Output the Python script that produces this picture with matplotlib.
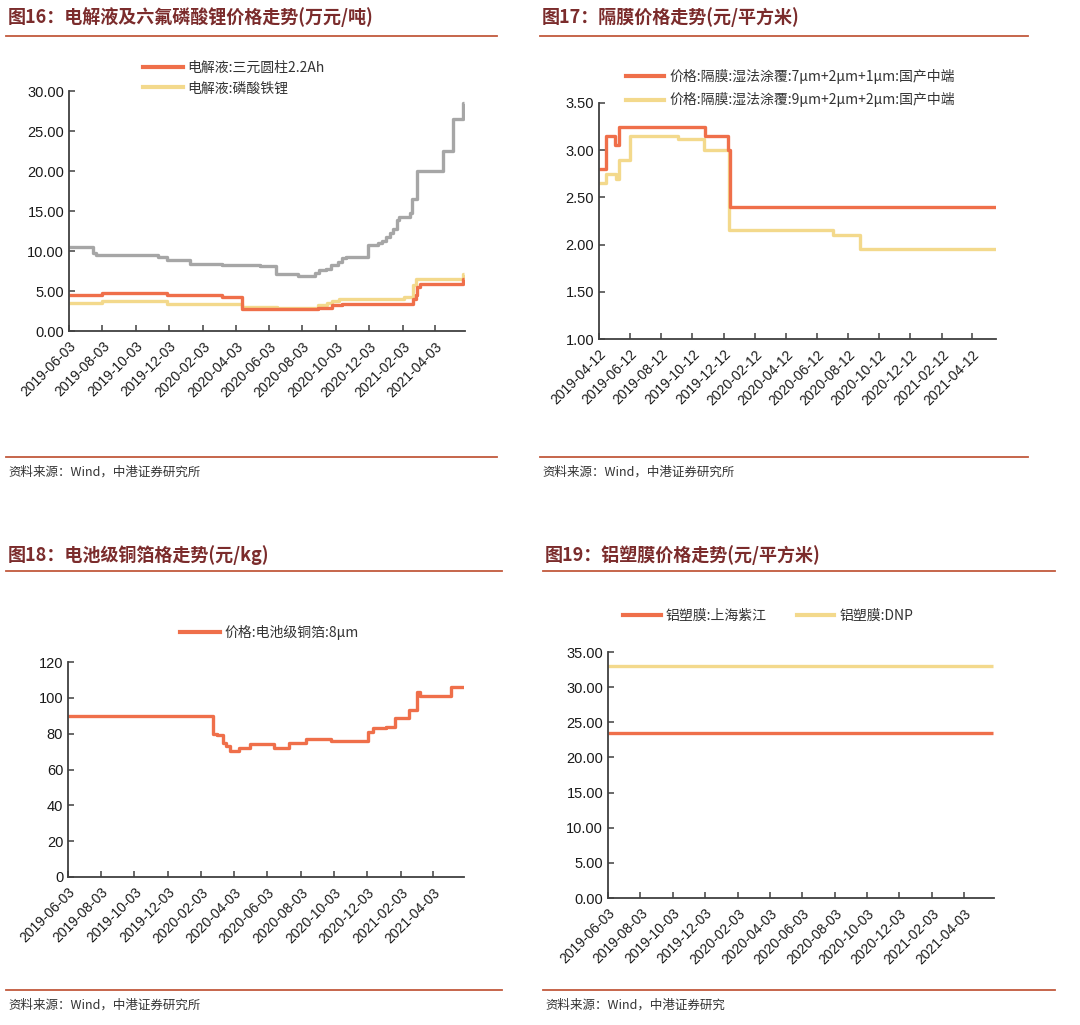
import pandas as pd
import matplotlib
matplotlib.use('Agg')
import matplotlib.pyplot as plt
from matplotlib.lines import Line2D

plt.rcParams['font.family'] = ['Liberation Sans', 'Noto Sans CJK SC', 'DejaVu Sans']
CJK = ['Noto Sans CJK SC', 'DejaVu Sans']

ORANGE = '#EF6F4A'
YELLOW = '#F3D98C'
GRAY = '#A6A6A6'
TITLE_C = '#7B2C2C'
RULE_C = '#C2593D'
AXIS_C = '#404040'

# ---- 图16 电解液及六氟磷酸锂 (万元/吨) ----
lipf6_dates = ['2019-06-03', '2019-07-17', '2019-07-22', '2019-11-13', '2019-11-29', '2020-01-11',
               '2020-03-09', '2020-04-29', '2020-05-18', '2020-06-16', '2020-07-27', '2020-08-27',
               '2020-09-02', '2020-09-15', '2020-09-25', '2020-10-07', '2020-10-14', '2020-10-22',
               '2020-12-01', '2020-12-20', '2020-12-27', '2021-01-03', '2021-01-10', '2021-01-16',
               '2021-01-23', '2021-01-27', '2021-02-16', '2021-02-20', '2021-03-01', '2021-04-18',
               '2021-05-06', '2021-05-24', '2021-05-27']
lipf6_vals = [10.5, 9.8, 9.5, 9.2, 8.9, 8.4,
              8.3, 8.2, 8.1, 7.1, 6.9, 7.3,
              7.6, 7.8, 8.2, 8.6, 9.1, 9.2,
              10.8, 11.0, 11.3, 11.8, 12.2, 12.8,
              13.9, 14.2, 14.8, 16.5, 20.0, 22.5,
              26.5, 28.5, 28.5]

ncm_dates = ['2019-06-03', '2019-08-02', '2019-11-29', '2020-03-09', '2020-04-15', '2020-09-01',
             '2020-09-26', '2020-10-15', '2021-02-22', '2021-02-27', '2021-03-02', '2021-03-06',
             '2021-05-24', '2021-05-27']
ncm_vals = [4.5, 4.7, 4.5, 4.3, 2.7, 2.9,
            3.2, 3.4, 4.0, 4.5, 5.5, 5.9,
            6.5, 6.5]

lfp_dates = ['2019-06-03', '2019-08-02', '2019-08-08', '2019-11-29', '2020-04-15', '2020-06-18',
             '2020-09-01', '2020-09-18', '2020-09-26', '2020-10-10', '2021-02-05', '2021-02-22',
             '2021-02-28', '2021-05-24', '2021-05-27']
lfp_vals = [3.5, 3.8, 3.7, 3.4, 3.0, 2.9,
            3.2, 3.5, 3.7, 4.0, 4.2, 5.8,
            6.5, 7.1, 7.1]

# ---- 图17 隔膜 (元/平方米) ----
sep7_dates = ['2019-04-12', '2019-04-26', '2019-05-13', '2019-05-22', '2019-11-06', '2019-12-21',
              '2019-12-24', '2021-05-29']
sep7_vals = [2.8, 3.15, 3.05, 3.25, 3.15, 3.0, 2.4, 2.4]

sep9_dates = ['2019-04-12', '2019-04-26', '2019-05-15', '2019-05-22', '2019-06-12', '2019-09-14',
              '2019-11-04', '2019-12-22', '2020-07-13', '2020-09-05', '2021-05-29']
sep9_vals = [2.65, 2.75, 2.7, 2.9, 3.15, 3.12, 3.0, 2.15, 2.1, 1.95, 1.95]

# ---- 图18 电池级铜箔 (元/kg) ----
cu_dates = ['2019-06-03', '2020-02-24', '2020-03-02', '2020-03-13', '2020-03-19', '2020-03-26',
            '2020-04-12', '2020-05-02', '2020-06-16', '2020-07-12', '2020-08-13', '2020-09-28',
            '2020-12-05', '2020-12-14', '2021-01-06', '2021-01-23', '2021-02-18', '2021-03-04',
            '2021-03-11', '2021-05-06', '2021-05-30']
cu_vals = [90, 80, 79, 75, 73, 70.5,
           72, 74, 72, 75, 77, 76,
           81, 83, 84, 89, 93, 103,
           101, 106, 106]

# ---- 图19 铝塑膜 (元/平方米) ----
film_dates = ['2019-06-03', '2021-05-29']
zijiang_vals = [23.5, 23.5]
dnp_vals = [33.0, 33.0]

ticks_0603 = ['2019-06-03', '2019-08-03', '2019-10-03', '2019-12-03', '2020-02-03', '2020-04-03',
              '2020-06-03', '2020-08-03', '2020-10-03', '2020-12-03', '2021-02-03', '2021-04-03']
ticks_0412 = ['2019-04-12', '2019-06-12', '2019-08-12', '2019-10-12', '2019-12-12', '2020-02-12',
              '2020-04-12', '2020-06-12', '2020-08-12', '2020-10-12', '2020-12-12', '2021-02-12',
              '2021-04-12']

W, H = 1080, 1025
fig = plt.figure(figsize=(W / 100, H / 100), dpi=100)


def box(x0, x1, ytop, ybot):
    return [x0 / W, 1 - ybot / H, (x1 - x0) / W, (ybot - ytop) / H]


def frame(x0, x1, y_title, y_rule, y_foot, y_src, title, source):
    fig.text((x0 + 2) / W, 1 - y_title / H, title, fontsize=13, fontweight='bold',
             color=TITLE_C, va='center', family=CJK)
    for y in (y_rule, y_foot):
        fig.add_artist(Line2D([x0 / W, x1 / W], [1 - y / H, 1 - y / H], color=RULE_C, lw=1.3))
    fig.text((x0 + 2) / W, 1 - y_src / H, source, fontsize=9, style='italic',
             color='#333333', va='center', family=CJK)


def style_axes(ax, ticks, start, end, ylim, yticks, fmt):
    ax.set_xlim(pd.Timestamp(start), pd.Timestamp(end))
    ax.set_ylim(*ylim)
    ax.set_yticks(yticks)
    ax.set_yticklabels([fmt.format(v) for v in yticks])
    ax.set_xticks(pd.to_datetime(ticks))
    ax.set_xticklabels(ticks, rotation=45, ha='right', rotation_mode='anchor')
    for s in ('top', 'right'):
        ax.spines[s].set_visible(False)
    for s in ('left', 'bottom'):
        ax.spines[s].set_color(AXIS_C)
        ax.spines[s].set_linewidth(1.3)
    ax.tick_params(direction='in', length=4, width=1.1, color=AXIS_C, labelsize=10.5,
                   labelcolor='#1a1a1a')
    ax.tick_params(axis='x', pad=6, labelsize=10)
    ax.patch.set_alpha(0)


def draw(ax, dates, vals, color, label=None):
    ax.plot(pd.to_datetime(dates), vals, drawstyle='steps-post', color=color, lw=2.4,
            label=label, solid_capstyle='butt')


src = '资料来源：Wind，中港证券研究所'
leg_prop = {'family': CJK, 'size': 10}

# panel 16
frame(6, 497, 17, 36, 457, 472, '图16：电解液及六氟磷酸锂价格走势(万元/吨)', src)
ax1 = fig.add_axes(box(69, 465, 91, 331))
draw(ax1, lipf6_dates, lipf6_vals, GRAY)
draw(ax1, lfp_dates, lfp_vals, YELLOW)
draw(ax1, ncm_dates, ncm_vals, ORANGE)
style_axes(ax1, ticks_0603, '2019-06-03', '2021-05-28', (0, 30), [0, 5, 10, 15, 20, 25, 30], '{:.2f}')
h = [Line2D([], [], color=ORANGE, lw=3), Line2D([], [], color=YELLOW, lw=3)]
fig.legend(h, ['电解液:三元圆柱2.2Ah', '电解液:磷酸铁锂'], loc='upper left',
           bbox_to_anchor=(143 / W, 1 - 61 / H), frameon=False,
           handlelength=2.9, handletextpad=0.3, labelspacing=0.45, borderpad=0,
           borderaxespad=0, prop=leg_prop, labelcolor='#333333')

# panel 17
frame(540, 1028, 17, 36, 457, 472, '图17：隔膜价格走势(元/平方米)', src)
ax2 = fig.add_axes(box(599, 996, 103, 339))
draw(ax2, sep9_dates, sep9_vals, YELLOW)
draw(ax2, sep7_dates, sep7_vals, ORANGE)
style_axes(ax2, ticks_0412, '2019-04-12', '2021-05-29', (1, 3.5), [1, 1.5, 2, 2.5, 3, 3.5], '{:.2f}')
fig.legend(h, ['价格:隔膜:湿法涂覆:7μm+2μm+1μm:国产中端', '价格:隔膜:湿法涂覆:9μm+2μm+2μm:国产中端'],
           loc='upper left', bbox_to_anchor=(626 / W, 1 - 69 / H), frameon=False,
           handlelength=2.7, handletextpad=0.4, labelspacing=0.6, borderpad=0,
           borderaxespad=0, prop=leg_prop, labelcolor='#333333')

# panel 18
frame(6, 502, 555, 571, 990, 1005, '图18：电池级铜箔格走势(元/kg)', src)
ax3 = fig.add_axes(box(68, 464, 662, 877))
draw(ax3, cu_dates, cu_vals, ORANGE)
style_axes(ax3, ticks_0603, '2019-06-03', '2021-05-30', (0, 120), [0, 20, 40, 60, 80, 100, 120], '{:.0f}')
fig.legend(h[:1], ['价格:电池级铜箔:8μm'], loc='upper left',
           bbox_to_anchor=(180 / W, 1 - 625 / H), frameon=False,
           handlelength=2.9, handletextpad=0.3, borderpad=0, borderaxespad=0,
           prop=leg_prop, labelcolor='#333333')

# panel 19
frame(543, 1055, 555, 571, 990, 1005, '图19：铝塑膜价格走势(元/平方米)', '资料来源：Wind，中港证券研究')
ax4 = fig.add_axes(box(608, 994, 652, 898))
draw(ax4, film_dates, dnp_vals, YELLOW, '铝塑膜:DNP')
draw(ax4, film_dates, zijiang_vals, ORANGE, '铝塑膜:上海紫江')
style_axes(ax4, ticks_0603, '2019-06-03', '2021-05-30', (0, 35), [0, 5, 10, 15, 20, 25, 30, 35], '{:.2f}')
fig.legend(h, ['铝塑膜:上海紫江', '铝塑膜:DNP'], loc='upper left', ncol=2,
           bbox_to_anchor=(623 / W, 1 - 609 / H), frameon=False,
           handlelength=2.7, handletextpad=0.35, columnspacing=2.2, borderpad=0,
           borderaxespad=0, prop=leg_prop, labelcolor='#333333')

fig.savefig('out.png', dpi=100, facecolor='white')
